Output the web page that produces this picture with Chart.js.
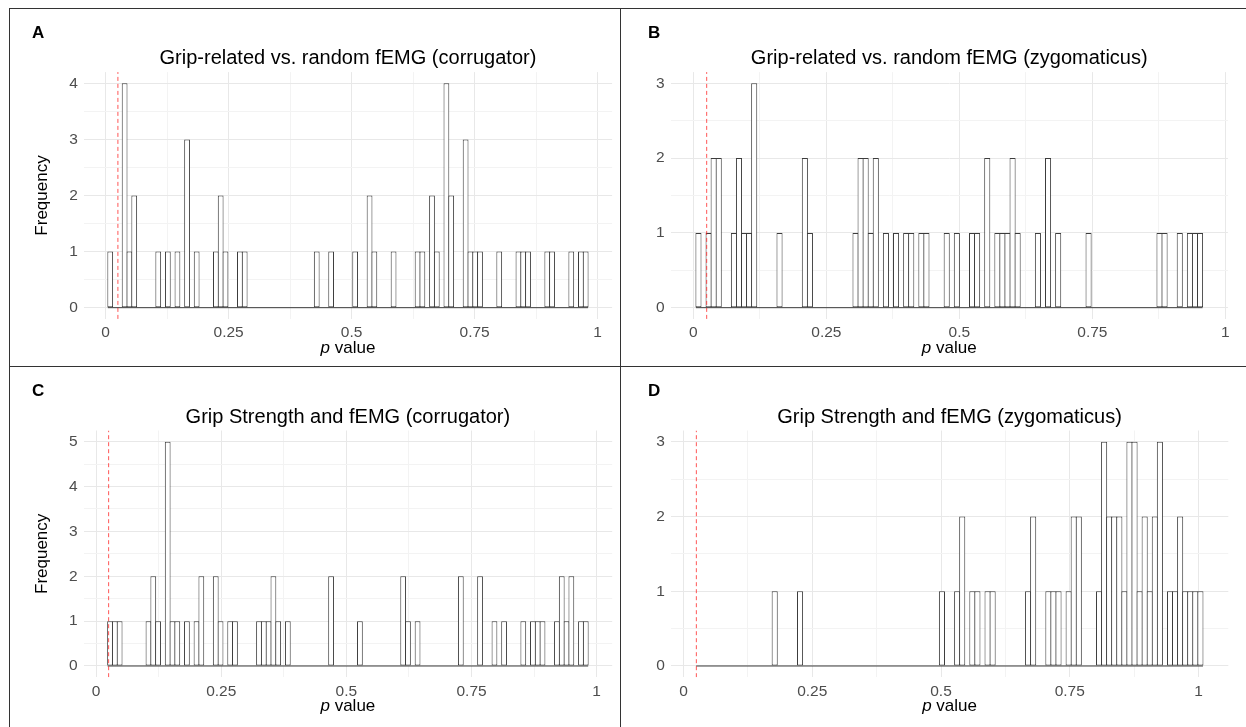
<!DOCTYPE html>
<html>
<head>
<meta charset="utf-8">
<title>p value histograms</title>
<script src="https://cdn.jsdelivr.net/npm/chart.js@4.4.1/dist/chart.umd.min.js"></script>
<style>
  html, body { margin: 0; padding: 0; background: #fff; }
  body { position: relative; width: 1246px; height: 727px; overflow: hidden; }
  canvas { position: absolute; }
  .rule { position: absolute; background: #333; }
</style>
</head>
<body>
<!-- panel frame -->
<div class="rule" style="left:9px;top:8px;width:1237px;height:1px"></div>
<div class="rule" style="left:9px;top:366px;width:1237px;height:1px"></div>
<div class="rule" style="left:9px;top:8px;width:1px;height:719px"></div>
<div class="rule" style="left:620px;top:8px;width:1px;height:719px"></div>

<canvas id="chartA" width="610" height="357" style="left:10px;top:9px"></canvas>
<canvas id="chartB" width="624" height="357" style="left:622px;top:9px"></canvas>
<canvas id="chartC" width="610" height="360" style="left:10px;top:367px"></canvas>
<canvas id="chartD" width="624" height="360" style="left:622px;top:367px"></canvas>

<script>
const FONT = '"Liberation Sans", Arial, sans-serif';
const pValueTicks = [0, 0.25, 0.5, 0.75, 1];
const alphaLine = 0.025;

// counts per bin (100 bins per panel)
const countsA = [
  1, 0, 0, 4, 1, 2, 0, 0, 0, 0,
  1, 0, 1, 0, 1, 0, 3, 0, 1, 0,
  0, 0, 1, 2, 1, 0, 0, 1, 1, 0,
  0, 0, 0, 0, 0, 0, 0, 0, 0, 0,
  0, 0, 0, 1, 0, 0, 1, 0, 0, 0,
  0, 1, 0, 0, 2, 1, 0, 0, 0, 1,
  0, 0, 0, 0, 1, 1, 0, 2, 1, 0,
  4, 2, 0, 0, 3, 1, 1, 1, 0, 0,
  0, 1, 0, 0, 0, 1, 1, 1, 0, 0,
  0, 1, 1, 0, 0, 0, 1, 0, 1, 1
];
const countsB = [
  1, 0, 1, 2, 2, 0, 0, 1, 2, 1,
  1, 3, 0, 0, 0, 0, 1, 0, 0, 0,
  0, 2, 1, 0, 0, 0, 0, 0, 0, 0,
  0, 1, 2, 2, 1, 2, 0, 1, 0, 1,
  0, 1, 1, 0, 1, 1, 0, 0, 0, 1,
  0, 1, 0, 0, 1, 1, 0, 2, 0, 1,
  1, 1, 2, 1, 0, 0, 0, 1, 0, 2,
  0, 1, 0, 0, 0, 0, 0, 1, 0, 0,
  0, 0, 0, 0, 0, 0, 0, 0, 0, 0,
  0, 1, 1, 0, 0, 1, 0, 1, 1, 1
];
const countsC = [
  1, 1, 1, 0, 0, 0, 0, 0, 1, 2,
  1, 0, 5, 1, 1, 0, 1, 0, 1, 2,
  0, 0, 2, 1, 0, 1, 1, 0, 0, 0,
  0, 1, 1, 1, 2, 1, 0, 1, 0, 0,
  0, 0, 0, 0, 0, 0, 2, 0, 0, 0,
  0, 0, 1, 0, 0, 0, 0, 0, 0, 0,
  0, 2, 1, 0, 1, 0, 0, 0, 0, 0,
  0, 0, 0, 2, 0, 0, 0, 2, 0, 0,
  1, 0, 1, 0, 0, 0, 1, 0, 1, 1,
  1, 0, 0, 1, 2, 1, 2, 0, 1, 1
];
const countsD = [
  0, 0, 0, 0, 0, 0, 0, 0, 0, 0,
  0, 0, 0, 0, 0, 1, 0, 0, 0, 0,
  1, 0, 0, 0, 0, 0, 0, 0, 0, 0,
  0, 0, 0, 0, 0, 0, 0, 0, 0, 0,
  0, 0, 0, 0, 0, 0, 0, 0, 1, 0,
  0, 1, 2, 0, 1, 1, 0, 1, 1, 0,
  0, 0, 0, 0, 0, 1, 2, 0, 0, 1,
  1, 1, 0, 1, 2, 2, 0, 0, 0, 1,
  3, 2, 2, 2, 1, 3, 3, 1, 2, 1,
  2, 3, 0, 1, 1, 2, 1, 1, 1, 1
];
// left edge of the first bin and bin width (p value units)
const binStart = { A: 0.0045, B: 0.0048, C: 0.023, D: 0.0246 };
const binWidth = { A: 0.00976, B: 0.009524, C: 0.0096, D: 0.00984 };

const titles = {
  A: 'Grip-related vs. random fEMG (corrugator)',
  B: 'Grip-related vs. random fEMG (zygomaticus)',
  C: 'Grip Strength and fEMG (corrugator)',
  D: 'Grip Strength and fEMG (zygomaticus)'
};

const Y_AXIS_W = 30, X_AXIS_H = 30;

// draws panel tag, title and axis titles
const panelText = {
  id: 'panelText',
  afterDraw(chart, args, o) {
    const { ctx, chartArea: a } = chart;
    const mid = (a.left + a.right) / 2;
    ctx.save();
    ctx.fillStyle = '#000';
    ctx.textBaseline = 'alphabetic';
    ctx.textAlign = 'left';
    ctx.font = 'bold 17px ' + FONT;
    ctx.fillText(o.letter, o.letterX, o.letterY);

    ctx.textAlign = 'center';
    ctx.font = '20px ' + FONT;
    ctx.fillText(o.title, mid, a.top - 8);

    // "p value" with italic p
    const base = a.bottom + 34;
    ctx.font = 'italic 17px ' + FONT;
    const wp = ctx.measureText('p').width;
    ctx.font = '17px ' + FONT;
    const wv = ctx.measureText(' value').width;
    const x0 = mid - (wp + wv) / 2;
    ctx.textAlign = 'left';
    ctx.font = 'italic 17px ' + FONT;
    ctx.fillText('p', x0, base);
    ctx.font = '17px ' + FONT;
    ctx.fillText(' value', x0 + wp, base);

    if (o.yTitle) {
      ctx.translate(o.yTitleX, (a.top + a.bottom) / 2);
      ctx.rotate(-Math.PI / 2);
      ctx.textAlign = 'center';
      ctx.textBaseline = 'middle';
      ctx.fillText(o.yTitle, 0, 0);
    }
    ctx.restore();
  }
};

function makeChart(id, key, counts, area, text) {
  const canvas = document.getElementById(id);
  const cx = canvas.offsetLeft, cy = canvas.offsetTop;
  const W = canvas.width, H = canvas.height;

  const lo = binStart[key], w = binWidth[key];
  const hi = lo + counts.length * w;
  const dMin = Math.min(lo, alphaLine), dMax = Math.max(hi, alphaLine);
  const xMin = dMin - 0.05 * (dMax - dMin), xMax = dMax + 0.05 * (dMax - dMin);
  const top = Math.max(...counts);
  const yMin = -0.05 * top, yMax = 1.05 * top;

  const bars = counts.map((c, i) => ({ x: lo + (i + 0.5) * w, y: c }));

  return new Chart(canvas, {
    type: 'bar',
    data: {
      datasets: [
        {
          type: 'line', order: 0,
          data: [{ x: alphaLine, y: yMin }, { x: alphaLine, y: yMax }],
          borderColor: 'rgba(255, 30, 30, 0.75)', borderWidth: 1, borderDash: [4, 3], pointRadius: 0
        },
        {
          type: 'bar', order: 1, data: bars,
          backgroundColor: '#ffffff', borderColor: '#3c3c3c', borderWidth: 1,
          borderSkipped: false, barPercentage: 1.2, categoryPercentage: 1
        },
        {
          type: 'line', order: 2,
          data: [{ x: lo, y: 0 }, { x: hi, y: 0 }],
          borderColor: '#3c3c3c', borderWidth: 1, pointRadius: 0
        }
      ]
    },
    options: {
      responsive: false,
      animation: false,
      devicePixelRatio: 1,
      layout: {
        padding: {
          left: area.left - cx - Y_AXIS_W,
          top: area.top - cy,
          right: cx + W - area.right,
          bottom: cy + H - area.bottom - X_AXIS_H
        }
      },
      plugins: {
        legend: { display: false },
        tooltip: { enabled: false },
        panelText: text
      },
      scales: {
        x: {
          type: 'linear', min: xMin, max: xMax, offset: false,
          border: { display: false },
          grid: {
            offset: false, drawTicks: false, lineWidth: 1,
            color: c => pValueTicks.some(t => Math.abs(t - c.tick.value) < 1e-6) ? '#e8e8e8' : '#f3f3f3'
          },
          ticks: {
            autoSkip: false, maxRotation: 0,
            padding: 5, color: '#4d4d4d', font: { family: FONT, size: 15.5 },
            callback: v => {
              const t = pValueTicks.find(t => Math.abs(t - v) < 1e-6);
              return t === undefined ? '' : String(t);
            }
          },
          // major ticks at 0.25 steps, minor gridlines halfway between
          afterBuildTicks: s => {
            s.ticks = [];
            for (let k = 0; k * 0.125 <= xMax; k++) s.ticks.push({ value: k * 0.125 });
          },
          afterFit: s => { s.height = X_AXIS_H; }
        },
        y: {
          min: yMin, max: yMax,
          border: { display: false },
          grid: {
            drawTicks: false, lineWidth: 1,
            color: c => Number.isInteger(c.tick.value) ? '#e8e8e8' : '#f3f3f3'
          },
          ticks: {
            padding: 6, color: '#4d4d4d', font: { family: FONT, size: 15.5 },
            callback: v => Number.isInteger(v) ? String(v) : ''
          },
          afterBuildTicks: s => {
            s.ticks = [];
            for (let k = 0; k * 0.5 <= top; k++) s.ticks.push({ value: k * 0.5 });
          },
          afterFit: s => { s.width = Y_AXIS_W; }
        }
      }
    },
    plugins: [panelText]
  });
}

makeChart('chartA', 'A', countsA,
  { left: 83.8, top: 72.1, right: 612.1, bottom: 318.9 },
  { letter: 'A', letterX: 22, letterY: 28.5, title: titles.A, yTitle: 'Frequency', yTitleX: 32 });
makeChart('chartB', 'B', countsB,
  { left: 670.6, top: 72.1, right: 1227.9, bottom: 318.9 },
  { letter: 'B', letterX: 26, letterY: 28.5, title: titles.B });
makeChart('chartC', 'C', countsC,
  { left: 83.6, top: 430.5, right: 612.2, bottom: 677.2 },
  { letter: 'C', letterX: 22, letterY: 28.9, title: titles.C, yTitle: 'Frequency', yTitleX: 32 });
makeChart('chartD', 'D', countsD,
  { left: 670.8, top: 430.5, right: 1228.3, bottom: 677.2 },
  { letter: 'D', letterX: 26, letterY: 28.9, title: titles.D });
</script>
</body>
</html>
